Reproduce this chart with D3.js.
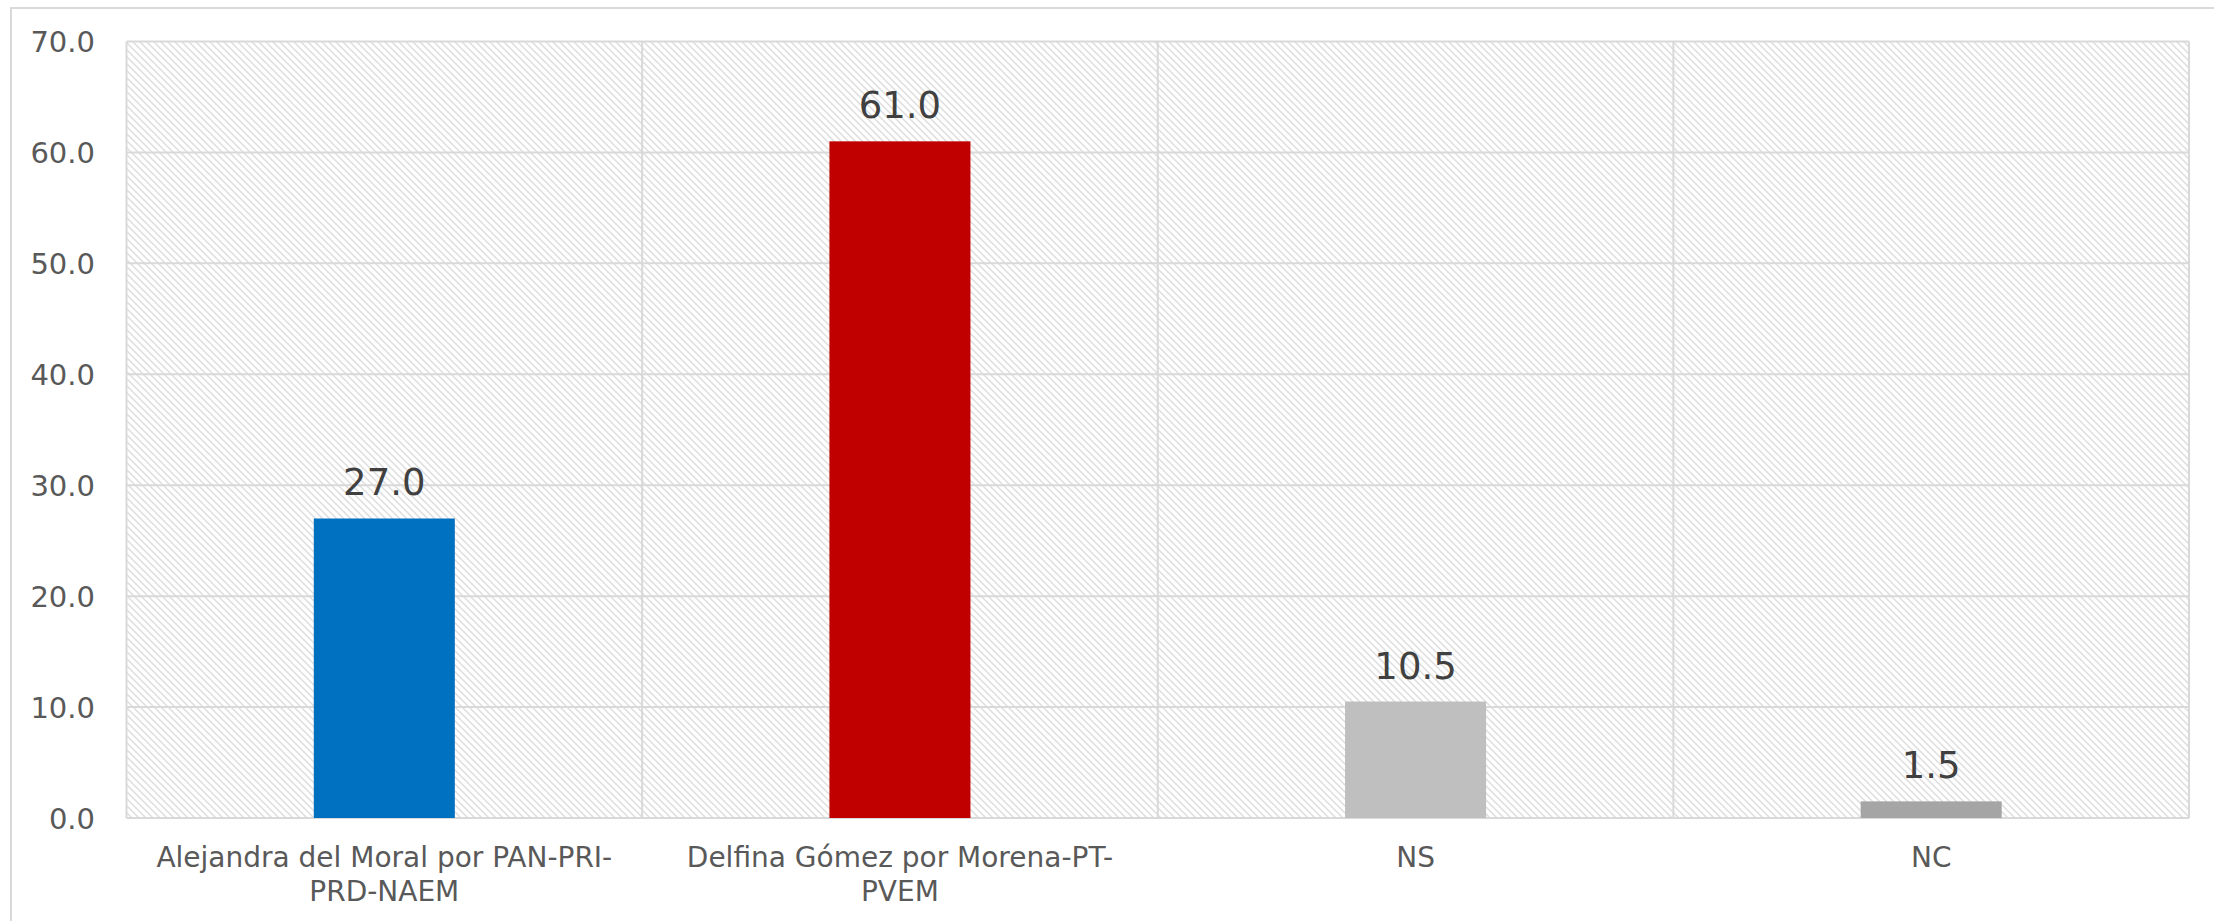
<!DOCTYPE html>
<html>
<head>
<meta charset="utf-8">
<script src="https://cdn.jsdelivr.net/npm/d3@7/dist/d3.min.js"></script>
<style>
  html, body { margin: 0; padding: 0; background: #ffffff; }
  svg { display: block; }
  text { font-family: "DejaVu Sans", sans-serif; }
</style>
</head>
<body>
<svg id="chart" width="2214" height="921"></svg>
<script>
const categories = ["Alejandra del Moral por PAN-PRI-PRD-NAEM", "Delfina Gómez por Morena-PT-PVEM", "NS", "NC"];
const values = [27.0, 61.0, 10.5, 1.5];
const barColors = ["#0070C0", "#C00000", "#BFBFBF", "#A5A5A5"];
const yTicks = [0, 10, 20, 30, 40, 50, 60, 70];

const W = 2214, H = 921;
const margin = { left: 126.5, top: 41.5, right: W - 2189, bottom: H - 818 };
const svg = d3.select("#chart");

// outer frame
svg.append("rect").attr("x", 11).attr("y", 8).attr("width", 2400).attr("height", 1200)
  .attr("fill", "none").attr("stroke", "#d9d9d9").attr("stroke-width", 2);

// hatch pattern
const defs = svg.append("defs");
const pat = defs.append("pattern").attr("id", "hatch").attr("patternUnits", "userSpaceOnUse")
  .attr("width", 7).attr("height", 7);
pat.append("rect").attr("width", 7).attr("height", 7).attr("fill", "#ffffff");
pat.append("path").attr("d", "M-1,-1 L8,8 M-8,-1 L1,8 M6,-1 L15,8")
  .attr("stroke", "#dedede").attr("stroke-width", 1.5);

const x = d3.scaleBand().domain(categories)
  .range([margin.left, W - margin.right]).paddingInner(0).paddingOuter(0);
const y = d3.scaleLinear().domain([0, 70]).range([H - margin.bottom, margin.top]);

const g = svg.append("g");
// plot background
g.append("rect").attr("x", margin.left).attr("y", margin.top)
  .attr("width", x.range()[1] - margin.left).attr("height", y(0) - margin.top)
  .attr("fill", "url(#hatch)");

// horizontal gridlines
g.selectAll("line.hg").data(yTicks).join("line").attr("class", "hg")
  .attr("x1", margin.left).attr("x2", x.range()[1])
  .attr("y1", d => y(d)).attr("y2", d => y(d))
  .attr("stroke", "#d9d9d9").attr("stroke-width", 2);
// vertical gridlines at category boundaries
const bounds = categories.map(c => x(c)).concat([x.range()[1]]);
g.selectAll("line.vg").data(bounds).join("line").attr("class", "vg")
  .attr("x1", d => d).attr("x2", d => d)
  .attr("y1", y(70)).attr("y2", y(0))
  .attr("stroke", "#d9d9d9").attr("stroke-width", 2);

// y axis labels
const yAxis = d3.axisLeft(y).tickValues(yTicks).tickFormat(d3.format(".1f")).tickSize(0).tickPadding(0);
const ya = svg.append("g").attr("transform", `translate(95,0)`).call(yAxis);
ya.select(".domain").remove();
ya.selectAll("text").attr("font-size", 29).attr("fill", "#595959")
  .attr("font-family", "DejaVu Sans, sans-serif").attr("dy", "0.36em");

// bars
const bw = x.bandwidth() * 0.2735;
g.selectAll("rect.bar").data(values).join("rect").attr("class", "bar")
  .attr("x", (d, i) => x(categories[i]) + x.bandwidth() / 2 - bw / 2)
  .attr("width", bw)
  .attr("y", d => y(d))
  .attr("height", d => y(0) - y(d))
  .attr("fill", (d, i) => barColors[i]);

// value labels
g.selectAll("text.val").data(values).join("text").attr("class", "val")
  .attr("x", (d, i) => x(categories[i]) + x.bandwidth() / 2)
  .attr("y", d => y(d) - 23)
  .attr("text-anchor", "middle")
  .attr("font-size", 37).attr("fill", "#404040")
  .text(d => d3.format(".1f")(d));

// x labels with wrapping
const maxW = 480;
const xl = svg.append("g");
categories.forEach((c, i) => {
  const cx = x(c) + x.bandwidth() / 2;
  const tokens = c.match(/[^\s-]+[-\s]?|[-\s]/g);
  const t = xl.append("text").attr("text-anchor", "middle")
    .attr("font-size", 28).attr("fill", "#595959");
  const lines = [];
  let cur = "";
  const meas = xl.append("text").attr("font-size", 28);
  tokens.forEach(tok => {
    const test = cur + tok;
    meas.text(test.trim());
    if (cur && meas.node().getComputedTextLength() > maxW) {
      lines.push(cur.trim());
      cur = tok;
    } else {
      cur = test;
    }
  });
  if (cur) lines.push(cur.trim());
  meas.remove();
  lines.forEach((ln, k) => {
    t.append("tspan").attr("x", cx).attr("y", 867 + k * 34).text(ln);
  });
});
</script>
</body>
</html>
